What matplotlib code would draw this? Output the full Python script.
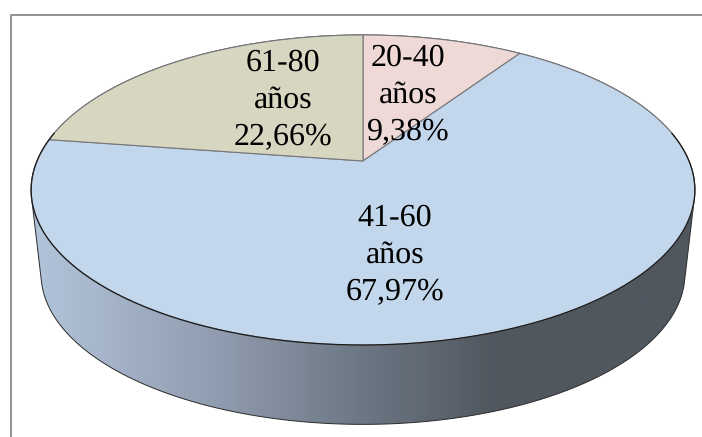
import numpy as np
import matplotlib
matplotlib.use('Agg')
import matplotlib.pyplot as plt
from matplotlib.colors import LinearSegmentedColormap
from matplotlib.patches import Polygon

# clockwise from 12 o'clock
age_groups = ['20-40', '41-60', '61-80']
percentages = [9.38, 67.97, 22.66]
slice_colors = ['#eed9d7', '#c2d6ec', '#d6d6c1']

W, H = 702, 437
CX, CY = 363, 161      # where the slices meet, in pixels
PERSP = 0.187          # perspective of the tilted disc
SX, SY = 326, 149.6
DEPTH_CY, DEPTH_SCALE = 274, 0.97   # lower face of the disc
MID_Y = 190

# block centre of each label, in pixels
label_pos = [(408, 95), (395, 255), (283, 100)]


def project(angle):
    # angle in radians, clockwise from the top of the circle
    u, v = np.sin(angle), np.cos(angle)
    d = 1 + PERSP * v
    return CX + SX * u / d, CY - SY * v / d


def hull(pts):
    pts = sorted(map(tuple, pts))
    def half(seq):
        out = []
        for p in seq:
            while len(out) > 1:
                a, b = out[-2], out[-1]
                if (b[0] - a[0]) * (p[1] - a[1]) - (b[1] - a[1]) * (p[0] - a[0]) <= 0:
                    out.pop()
                else:
                    break
            out.append(p)
        return out[:-1]
    return np.array(half(pts) + half(pts[::-1]))


plt.rcParams['text.hinting'] = 'no_hinting'
fig = plt.figure(figsize=(W / 100, H / 100), dpi=100)
ax = fig.add_axes([0, 0, 1, 1])
ax.axis('off')

# chart frame, only the top and left are inside the picture
ax.plot([10.5, 10.5, W], [H, 14.5, 14.5], color='#8a8a8a', lw=1.3, zorder=1)

# side of the disc
t = np.linspace(0, 2 * np.pi, 721)
rim_x, rim_y = project(t)
low_x = CX - 1 + (rim_x - (CX - 1)) * DEPTH_SCALE
low_y = DEPTH_CY + (rim_y - MID_Y) * DEPTH_SCALE
side = hull(np.vstack([np.column_stack([rim_x, rim_y]), np.column_stack([low_x, low_y])]))
side_patch = Polygon(side, closed=True, fc='none', ec='none', transform=ax.transData)
ax.add_patch(side_patch)

side_cmap = LinearSegmentedColormap.from_list('side', [
    (0.0, '#b2c4da'), (0.26, '#939fb3'), (0.49, '#6e7986'), (0.70, '#50575f'), (1.0, '#50575f')])
grad = ax.imshow(np.linspace(0, 1, 400).reshape(1, -1), cmap=side_cmap, aspect='auto',
                 extent=(33, 692, 430, 150), zorder=2)
grad.set_clip_path(side_patch)
ax.add_patch(Polygon(side, closed=True, fc='none', ec='#2b2b2b', lw=0.7, zorder=3))

# slices on top
edges = np.cumsum([0] + percentages) / sum(percentages) * 2 * np.pi
for i, color in enumerate(slice_colors):
    a = np.linspace(edges[i], edges[i + 1], 300)
    x, y = project(a)
    ax.fill(np.r_[CX, x], np.r_[CY, y], fc=color, ec='#77777a', lw=0.8, zorder=4, joinstyle='miter')

# rim gets darker towards the front
front = (t > np.pi / 2 - 0.2) & (t < 3 * np.pi / 2 + 0.2)
ax.plot(rim_x[front], rim_y[front], color='#1c1c1c', lw=0.9, zorder=5)

for name, pct, (lx, ly) in zip(age_groups, percentages, label_pos):
    txt = '%s\naños\n%s%%' % (name, ('%.2f' % pct).replace('.', ','))
    ax.text(lx, ly, txt, family='Liberation Serif', fontsize=23, color='black',
            ha='center', va='center', linespacing=1.38, zorder=6)

ax.set_xlim(0, W)
ax.set_ylim(H, 0)
fig.savefig('out.png', dpi=100)
